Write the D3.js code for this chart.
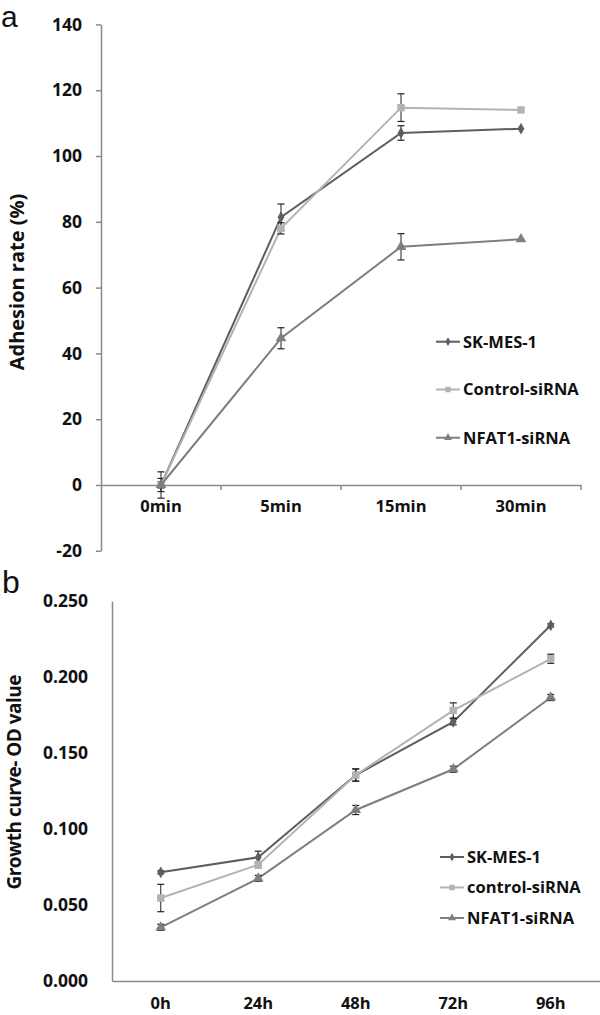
<!DOCTYPE html>
<html><head><meta charset="utf-8">
<script src="https://cdn.jsdelivr.net/npm/d3@7"></script>
<style>
html,body{margin:0;padding:0;background:#fff;}
svg{display:block;}
text{font-family:"Open Sans",sans-serif;font-weight:700;fill:#111;}
</style></head><body>
<svg id="c" width="600" height="1015"></svg>
<script>
// ---------- Panel a data ----------
const catsA = ["0min","5min","15min","30min"];
const seriesNamesA = ["SK-MES-1","Control-siRNA","NFAT1-siRNA"];
const skA    = [0, 81.4, 107.0, 108.3];
const skAErr = [2, 4.0, 2.2, 0];
const ctA    = [0, 78.0, 114.7, 114.0];
const ctAErr = [1, 1.7, 4.2, 0];
const nfA    = [0, 44.6, 72.4, 74.7];
const nfAErr = [4, 3.2, 4.0, 0];
const yTicksA = [-20, 0, 20, 40, 60, 80, 100, 120, 140];

// ---------- Panel b data ----------
const catsB = ["0h","24h","48h","72h","96h"];
const seriesNamesB = ["SK-MES-1","control-siRNA","NFAT1-siRNA"];
const skB    = [0.0715, 0.0814, 0.1355, 0.1705, 0.2340];
const skBErr = [0.001, 0.004, 0.004, 0.002, 0.001];
const ctB    = [0.0546, 0.0765, 0.1355, 0.1780, 0.2120];
const ctBErr = [0.009, 0.002, 0.004, 0.005, 0.003];
const nfB    = [0.0353, 0.0675, 0.1125, 0.1393, 0.1865];
const nfBErr = [0.002, 0.002, 0.003, 0.002, 0.002];
const yTicksB = [0, 0.05, 0.10, 0.15, 0.20, 0.25];

const colors = ["#5e5e5e", "#b3b3b3", "#7f7f7f"];
const shapes = [d3.symbolDiamond, d3.symbolSquare, d3.symbolTriangle];
const symSizes = [40, 55, 50];
const axisColor = "#8a8a8a";

const svg = d3.select("#c");

function drawSeries(g, x, y, cats, vals, errs, i) {
  const cx = c => x(c) + x.bandwidth()/2;
  const line = d3.line().x((d,j)=>cx(cats[j])).y(d=>y(d));
  g.append("path").attr("d", line(vals)).attr("fill","none")
    .attr("stroke", colors[i]).attr("stroke-width", 2);
  vals.forEach((v,j)=>{
    if (errs[j] > 0) {
      const xx = cx(cats[j]), y1 = y(v+errs[j]), y2 = y(v-errs[j]);
      g.append("line").attr("x1",xx).attr("x2",xx).attr("y1",y1).attr("y2",y2)
        .attr("stroke","#222").attr("stroke-width",1);
      [y1,y2].forEach(yy=>g.append("line").attr("x1",xx-3.5).attr("x2",xx+3.5)
        .attr("y1",yy).attr("y2",yy).attr("stroke","#222").attr("stroke-width",1.2));
    }
  });
  vals.forEach((v,j)=>{
    g.append("path").attr("d", d3.symbol().type(shapes[i]).size(symSizes[i])())
      .attr("transform",`translate(${cx(cats[j])},${y(v)})`).attr("fill",colors[i]);
  });
}

function drawLegend(g, x0, ys, names) {
  names.forEach((n,i)=>{
    g.append("line").attr("x1",x0).attr("x2",x0+24).attr("y1",ys[i]).attr("y2",ys[i])
      .attr("stroke",colors[i]).attr("stroke-width",2);
    g.append("path").attr("d", d3.symbol().type(shapes[i]).size(symSizes[i]*0.55)())
      .attr("transform",`translate(${x0+12},${ys[i]})`).attr("fill",colors[i]);
    g.append("text").attr("x",x0+27).attr("y",ys[i]).attr("dy","0.36em")
      .style("font-size","16.5px").text(n);
  });
}

// ---------------- Panel a ----------------
{
  const g = svg.append("g");
  const x = d3.scaleBand().domain(catsA).range([101, 581]);
  const y = d3.scaleLinear().domain([-20, 140]).range([550.8, 24.4]);

  const ya = g.append("g").attr("transform","translate(101,0)")
    .call(d3.axisLeft(y).tickValues(yTicksA).tickSizeInner(5).tickSizeOuter(0).tickPadding(14).tickFormat(d=>String(d)));
  ya.selectAll("path,line").attr("stroke",axisColor).attr("stroke-width",1.5);
  ya.selectAll("text").style("font-size","17.5px").style("font-family",null).attr("fill","#111");

  const xa = g.append("g").attr("transform",`translate(0,${y(0)})`)
    .call(d3.axisBottom(x).tickSize(0).tickPadding(15));
  xa.select(".domain").attr("stroke",axisColor).attr("stroke-width",1.5);
  xa.selectAll("text").style("font-size","16.5px").style("font-family",null).attr("fill","#111");
  catsA.forEach(c=>{
    const bx = x(c) + x.bandwidth();
    g.append("line").attr("x1",bx).attr("x2",bx).attr("y1",y(0)).attr("y2",y(0)+5)
      .attr("stroke",axisColor).attr("stroke-width",1.5);
  });

  g.append("text").attr("transform","translate(24,282) rotate(-90)")
    .attr("text-anchor","middle").style("font-size","20px").text("Adhesion rate (%)");

  [[skA,skAErr],[ctA,ctAErr],[nfA,nfAErr]].forEach((s,i)=>drawSeries(g,x,y,catsA,s[0],s[1],i));
  drawLegend(g, 436, [341.7, 389.5, 437.7], seriesNamesA);

  g.append("text").attr("x",1).attr("y",27).style("font-family","'Liberation Sans',Arial,sans-serif")
    .style("font-weight","400").style("font-size","30px").text("a");
}

// ---------------- Panel b ----------------
{
  const g = svg.append("g");
  const x = d3.scaleBand().domain(catsB).range([112, 599.5]);
  const y = d3.scaleLinear().domain([0, 0.25]).range([981, 601]);

  const ya = g.append("g").attr("transform","translate(112,0)")
    .call(d3.axisLeft(y).tickValues(yTicksB).tickSize(0).tickPadding(24).tickFormat(d3.format(".3f")));
  ya.selectAll("path").attr("stroke",axisColor).attr("stroke-width",1.5);
  ya.selectAll("text").style("font-size","17.5px").style("font-family",null).attr("fill","#111");

  const xa = g.append("g").attr("transform","translate(0,981)")
    .call(d3.axisBottom(x).tickSize(0).tickPadding(16));
  xa.select(".domain").attr("stroke",axisColor).attr("stroke-width",1.5);
  xa.selectAll("text").style("font-size","16.5px").style("font-family",null).attr("fill","#111");

  g.append("text").attr("transform","translate(21,782) rotate(-90)")
    .attr("text-anchor","middle").style("font-size","19px")
    .attr("textLength",215).attr("lengthAdjust","spacing").text("Growth curve- OD value");

  [[skB,skBErr],[ctB,ctBErr],[nfB,nfBErr]].forEach((s,i)=>drawSeries(g,x,y,catsB,s[0],s[1],i));
  drawLegend(g, 440, [857, 887.5, 918], seriesNamesB);

  g.append("text").attr("x",2).attr("y",593).style("font-family","'Liberation Sans',Arial,sans-serif")
    .style("font-weight","400").style("font-size","32px").text("b");
}
</script>
</body></html>
